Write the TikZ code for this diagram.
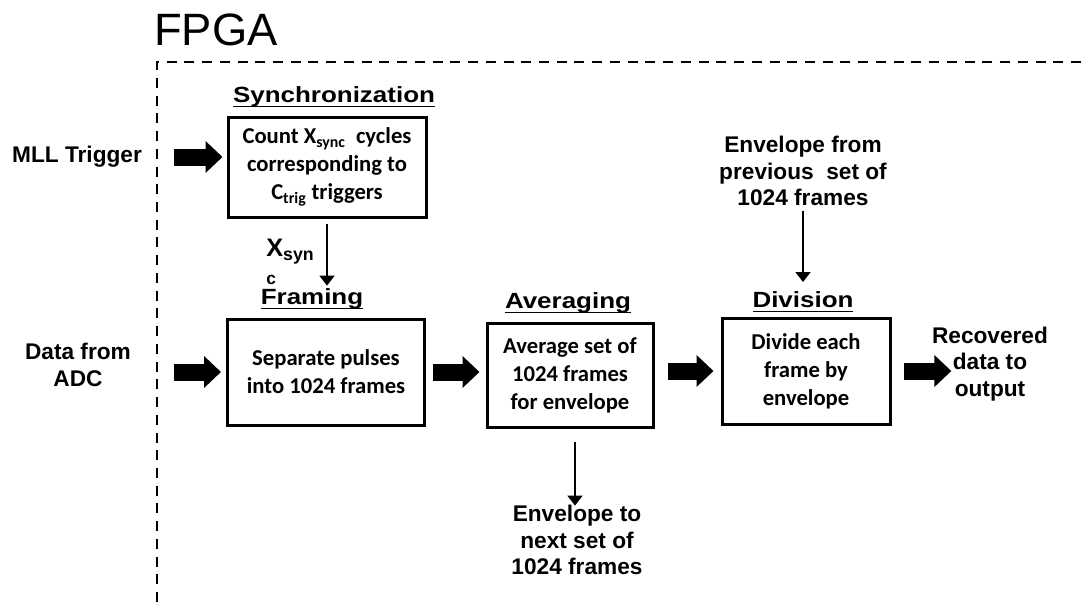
\documentclass[tikz,border=0pt]{standalone}
\usepackage{fontspec}
\setmainfont{Liberation Sans}
\newfontfamily\boxfont{Carlito}
\newfontfamily\titlefont[FakeStretch=1.18]{Liberation Sans}
\usetikzlibrary{arrows.meta, positioning}

\newsavebox{\ulbox}
\newcommand{\ulword}[1]{\sbox{\ulbox}{#1}\rlap{\usebox{\ulbox}}\rule[-3.6pt]{\wd\ulbox}{1.4pt}}

\begin{document}
\begin{tikzpicture}[
    x=0.75pt, y=-0.75pt,
    block/.style={rectangle, draw=black, line width=2.25pt, align=center, font=\boxfont\bfseries\fontsize{17}{21}\selectfont},
    heading/.style={inner sep=0pt, font=\titlefont\bfseries\fontsize{16.5}{20}\selectfont},
    io/.style={align=center, font=\bfseries\fontsize{17}{20}\selectfont},
    fence/.style={line width=2pt, dash pattern=on 7.5pt off 5.8pt},
    bigarrow/.style={line width=12.75pt, -{Triangle[length=12.75pt, width=23.25pt]}},
    feed/.style={line width=2pt, -{Triangle[length=7.5pt, width=11pt]}}
]
\useasboundingbox (0,0) rectangle (1081,603);

% FPGA border
\node[anchor=base west, inner sep=0pt, font=\fontsize{34}{40}\selectfont] (fpga) at (154,45) {FPGA};
\draw[fence] (1081,62) -| (157,603);

% processing blocks
\node[block, minimum width=148.5pt, minimum height=75pt] (sync) at (327,167) {Count X\textsubscript{sync}~ cycles\\corresponding to\\C\textsubscript{trig} triggers};
\node[block, minimum width=147.75pt, minimum height=79.5pt] (framing) at (326,372) {Separate pulses\\into 1024 frames};
\node[block, minimum width=124.5pt, minimum height=78pt] (avg) at (570,375) {Average set of\\1024 frames\\for envelope};
\node[block, minimum width=126pt, minimum height=79.5pt] (div) at (806,371) {Divide each\\frame by\\envelope};

% block titles
\node[heading] (synctitle) at (334,97) {\ulword{Synchronization}};
\node[heading] (frametitle) at (312,299) {\ulword{Framing}};
\node[heading] (avgtitle) at (568,303) {\ulword{Averaging}};
\node[heading] (divtitle) at (803,302) {\ulword{Division}};

% inputs and outputs
\node[io] (mll) at (77,157) {MLL Trigger};
\node[io] (adc) at (78,365) {Data from\\ADC};
\node[io] (prev) at (803,171) {Envelope from\\previous~ set of\\1024 frames};
\node[io] (rec) at (990,364) {Recovered\\data to\\output};
\node[io] (next) at (577,540) {Envelope to\\next set of\\1024 frames};
\node[anchor=west, align=left, inner sep=0pt, font=\bfseries\fontsize{19}{21}\selectfont] (xsync) at (266,262) {X\textsubscript{syn}\\{\fontsize{13}{21}\selectfont c}};

\draw[bigarrow, shorten <=20.6pt, shorten >=3pt] (mll.east) -- (mll.east -| sync.west);
\draw[bigarrow, shorten <=28.5pt, shorten >=3.75pt] (framing.west -| adc.east) -- (framing.west);
\draw[bigarrow, shorten <=5.25pt, shorten >=4.5pt] (framing.east) -- (framing.east -| avg.west);
\draw[bigarrow, shorten <=9.75pt, shorten >=5.25pt] (div.west -| avg.east) -- (div.west);
\draw[bigarrow, shorten <=9pt, shorten >=-18pt] (div.east) -- (div.east -| rec.west);

\draw[feed, shorten <=3.75pt, shorten >=2pt] (sync.south) -- (sync.south |- frametitle.north);
\draw[feed, shorten >=7pt] (prev.south) -- (prev.south |- divtitle.north);
\draw[feed, shorten <=9.75pt, shorten >=-4pt] ([xshift=3.75pt]avg.south) -- ([xshift=3.75pt]avg.south |- next.north);

\end{tikzpicture}
\end{document}
